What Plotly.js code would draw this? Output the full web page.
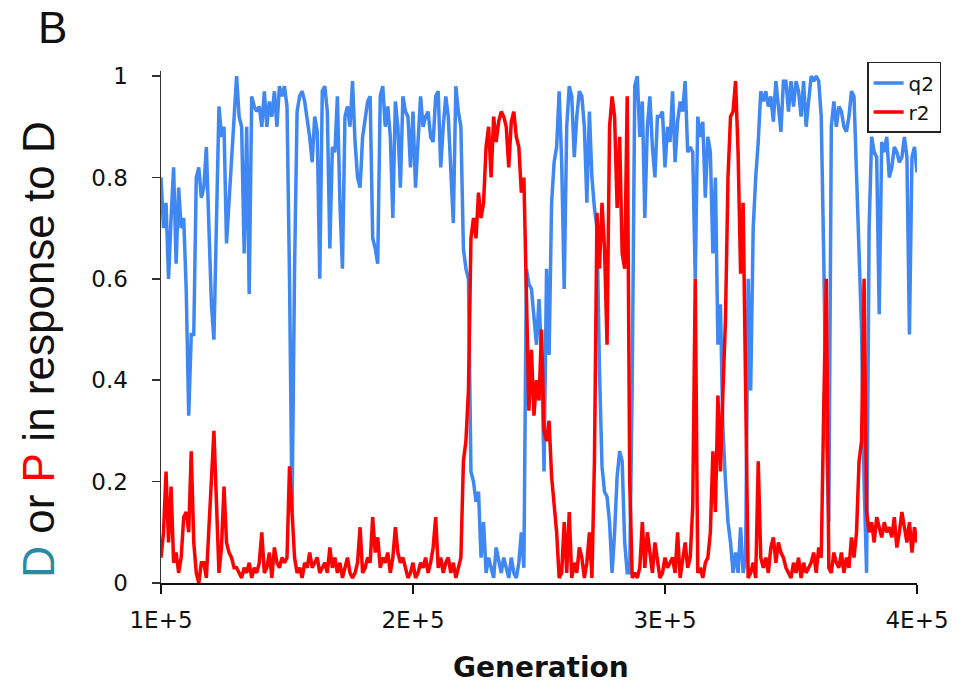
<!DOCTYPE html>
<html>
<head>
<meta charset="utf-8">
<script src="https://cdn.plot.ly/plotly-3.0.1.min.js"></script>
<style>
html,body{margin:0;padding:0;background:#fff;}
#chart{width:967px;height:691px;}
</style>
</head>
<body>
<div id="chart"></div>
<script>
// Generation grid
const genStart = 100000;
const genStep = 1000;

// q2 (blue) series, one value per 1000 generations
const q2 = [
0.80,0.70,0.75,0.60,0.72,0.82,0.63,0.78,0.70,0.72,
0.58,0.33,0.49,0.49,0.80,0.82,0.76,0.78,0.86,0.70,
0.55,0.48,0.75,0.94,0.88,0.90,0.67,0.75,0.82,0.90,
1.00,0.92,0.90,0.65,0.90,0.57,0.96,0.94,0.93,0.94,
0.90,0.97,0.90,0.95,0.92,0.97,0.90,0.98,0.96,0.98,
0.94,0.60,0.14,0.62,0.93,0.96,0.97,0.95,0.92,0.88,
0.83,0.92,0.89,0.60,0.97,0.98,0.93,0.66,0.86,0.85,
0.96,0.75,0.62,0.92,0.94,0.90,0.99,0.87,0.80,0.78,
0.88,0.92,0.95,0.96,0.68,0.66,0.63,0.96,0.98,0.90,
0.94,0.88,0.72,0.95,0.90,0.78,0.96,0.93,0.92,0.82,
0.93,0.78,0.87,0.96,0.90,0.92,0.93,0.88,0.87,0.96,
0.97,0.82,0.90,0.96,0.92,0.80,0.71,0.98,0.93,0.90,
0.66,0.62,0.60,0.22,0.20,0.16,0.18,0.05,0.12,0.02,
0.05,0.03,0.01,0.07,0.04,0.02,0.05,0.03,0.01,0.05,
0.02,0.01,0.04,0.10,0.03,0.62,0.59,0.58,0.52,0.47,
0.56,0.45,0.22,0.62,0.45,0.75,0.83,0.86,0.97,0.83,
0.58,0.90,0.98,0.96,0.84,0.92,0.97,0.96,0.90,0.75,
0.93,0.80,0.74,0.70,0.42,0.23,0.18,0.17,0.12,0.02,
0.10,0.21,0.26,0.24,0.08,0.02,0.02,0.40,0.98,1.00,
0.88,0.95,0.72,0.90,0.96,0.86,0.80,0.92,0.92,0.93,
0.82,0.90,0.87,0.97,0.83,0.91,0.95,0.93,0.99,0.85,
0.86,0.85,0.60,0.92,0.88,0.91,0.76,0.88,0.85,0.65,
0.80,0.47,0.55,0.30,0.20,0.12,0.08,0.02,0.06,0.02,
0.11,0.02,0.05,0.60,0.38,0.70,0.80,0.87,0.97,0.95,
0.97,0.94,0.96,0.91,0.99,0.94,0.89,0.99,0.99,0.93,
0.99,0.94,0.99,0.97,0.92,0.99,0.90,0.95,1.00,0.99,
1.00,0.99,0.92,0.64,0.30,0.12,0.90,0.95,0.90,0.94,
0.93,0.90,0.89,0.92,0.97,0.96,0.80,0.65,0.50,0.20,
0.02,0.70,0.88,0.85,0.84,0.53,0.87,0.85,0.88,0.80,
0.82,0.86,0.85,0.83,0.84,0.88,0.84,0.49,0.84,0.86,
0.81
];

// r2 (red) series
const r2 = [
0.05,0.10,0.22,0.08,0.19,0.04,0.06,0.02,0.05,0.13,
0.14,0.10,0.26,0.08,0.02,0.00,0.04,0.04,0.01,0.10,
0.20,0.30,0.16,0.02,0.07,0.19,0.08,0.06,0.05,0.03,
0.03,0.02,0.01,0.03,0.02,0.04,0.01,0.03,0.02,0.04,
0.10,0.02,0.03,0.06,0.01,0.07,0.04,0.03,0.05,0.04,
0.05,0.23,0.14,0.05,0.02,0.03,0.01,0.04,0.03,0.06,
0.03,0.04,0.05,0.02,0.03,0.04,0.02,0.07,0.03,0.05,
0.02,0.04,0.01,0.03,0.05,0.02,0.01,0.02,0.04,0.11,
0.02,0.03,0.05,0.04,0.13,0.06,0.09,0.03,0.05,0.04,
0.06,0.02,0.05,0.11,0.06,0.04,0.05,0.03,0.01,0.02,
0.04,0.01,0.02,0.04,0.03,0.05,0.02,0.04,0.07,0.13,
0.03,0.05,0.02,0.04,0.05,0.02,0.04,0.01,0.03,0.05,
0.24,0.28,0.38,0.68,0.72,0.68,0.77,0.72,0.75,0.86,
0.90,0.80,0.92,0.87,0.91,0.93,0.92,0.90,0.82,0.91,
0.93,0.88,0.86,0.77,0.80,0.60,0.34,0.46,0.33,0.40,
0.36,0.50,0.30,0.28,0.32,0.21,0.16,0.10,0.01,0.02,
0.12,0.02,0.14,0.01,0.04,0.02,0.07,0.05,0.01,0.04,
0.10,0.01,0.24,0.73,0.62,0.75,0.66,0.47,0.90,0.96,
0.92,0.74,0.88,0.65,0.62,0.96,0.20,0.01,0.02,0.01,
0.03,0.12,0.03,0.10,0.06,0.02,0.08,0.04,0.01,0.02,
0.05,0.03,0.04,0.05,0.02,0.10,0.01,0.04,0.08,0.03,
0.05,0.15,0.60,0.02,0.03,0.01,0.04,0.05,0.10,0.26,
0.14,0.37,0.22,0.38,0.52,0.80,0.92,0.93,0.99,0.85,
0.61,0.75,0.35,0.01,0.02,0.04,0.01,0.24,0.05,0.03,
0.05,0.02,0.07,0.09,0.04,0.08,0.06,0.05,0.03,0.02,
0.01,0.04,0.02,0.05,0.01,0.04,0.02,0.03,0.04,0.06,
0.02,0.07,0.05,0.35,0.60,0.03,0.02,0.06,0.04,0.03,
0.06,0.02,0.05,0.03,0.09,0.05,0.10,0.24,0.28,0.60,
0.14,0.10,0.12,0.08,0.13,0.11,0.09,0.12,0.10,0.11,
0.09,0.13,0.07,0.10,0.14,0.11,0.08,0.12,0.06,0.11,
0.08
];

const xTickVals = [100000, 200000, 300000, 400000];
const xTickText = ["1E+5", "2E+5", "3E+5", "4E+5"];
const yTickVals = [0, 0.2, 0.4, 0.6, 0.8, 1];
const yTickText = ["0", "0.2", "0.4", "0.6", "0.8", "1"];

const generations = q2.map((_, i) => genStart + i * genStep);

const traces = [
  {x: generations, y: q2, name: "q2", type: "scatter", mode: "lines",
   line: {color: "#3f87f2", width: 3.5}},
  {x: generations, y: r2, name: "r2", type: "scatter", mode: "lines",
   line: {color: "#ff0000", width: 3.5}}
];

const layout = {
  width: 967, height: 691,
  margin: {l: 161, r: 50, t: 71, b: 108, pad: 0},
  paper_bgcolor: "#fff", plot_bgcolor: "#fff",
  showlegend: true,
  font: {family: "DejaVu Sans, sans-serif", color: "#111"},
  xaxis: {
    range: [100000, 400000], tickmode: "array", tickvals: xTickVals, ticktext: xTickText,
    ticks: "outside", ticklen: 9, tickwidth: 2, tickcolor: "#111",
    showline: true, linecolor: "#111", linewidth: 2,
    showgrid: false, zeroline: false,
    tickfont: {family: "DejaVu Sans, sans-serif", size: 23, color: "#111"},
    ticklabelstandoff: 6
  },
  yaxis: {
    range: [0, 1.01], tickmode: "array", tickvals: yTickVals, ticktext: yTickText,
    ticks: "outside", ticklen: 8, tickwidth: 1.5, tickcolor: "#333",
    showline: true, linecolor: "#333", linewidth: 1.5,
    showgrid: false, zeroline: false,
    tickfont: {family: "DejaVu Sans, sans-serif", size: 23, color: "#111"},
    ticklabelstandoff: 19
  },
  legend: {
    x: 0.934, y: 1.0176, xanchor: "left", yanchor: "top",
    bgcolor: "#fff", bordercolor: "#222", borderwidth: 1.5,
    font: {family: "DejaVu Sans, sans-serif", size: 20, color: "#111"},
    itemwidth: 30, tracegroupgap: 0
  },
  annotations: [
    {text: "B", xref: "paper", yref: "paper", x: -0.143, y: 1.085,
     xanchor: "center", yanchor: "middle", showarrow: false,
     font: {family: "Liberation Sans, Arial, sans-serif", size: 44, color: "#111"}},
    {text: '<span style="color:#2c89a3">D</span> or <span style="color:#ff0000">P</span> in response to D',
     xref: "paper", yref: "paper", x: -0.163, y: 0.457, textangle: -90,
     xanchor: "center", yanchor: "middle", showarrow: false,
     font: {family: "Liberation Sans, Arial, sans-serif", size: 44, color: "#111"}},
    {text: "<b>Generation</b>", xref: "paper", yref: "paper", x: 0.503, y: -0.166,
     xanchor: "center", yanchor: "middle", showarrow: false,
     font: {family: "DejaVu Sans, sans-serif", size: 28, color: "#111"}}
  ]
};

Plotly.newPlot("chart", traces, layout, {displayModeBar: false, staticPlot: true});
</script>
</body>
</html>
